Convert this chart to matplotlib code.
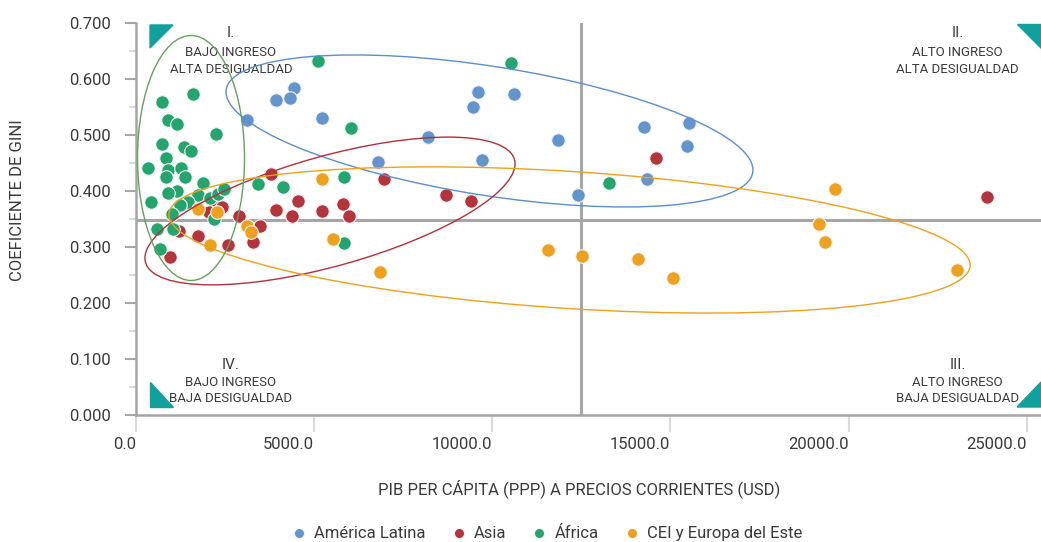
import matplotlib.pyplot as plt
from matplotlib import font_manager
from matplotlib.patches import Ellipse, Polygon
from matplotlib.ticker import MultipleLocator, FormatStrFormatter
from matplotlib.transforms import ScaledTranslation

# --- data (PIB per capita PPP, Gini) ---
latam_x = [4426, 4322, 3929, 3129, 5229, 9599, 10615, 9467, 8187, 6792, 9711,
           11852, 12397, 14258, 15521, 15456, 14342]
latam_y = [0.584, 0.567, 0.563, 0.528, 0.531, 0.577, 0.574, 0.551, 0.496, 0.453,
           0.456, 0.491, 0.393, 0.515, 0.521, 0.481, 0.421]

asia_x = [3775, 4547, 3935, 4387, 2217, 2405, 2049, 2896, 3480, 3292, 2576, 1749,
          1215, 946, 6969, 8692, 9394, 5229, 5801, 5970, 14594, 23893]
asia_y = [0.431, 0.383, 0.366, 0.356, 0.380, 0.372, 0.363, 0.356, 0.337, 0.310,
          0.303, 0.319, 0.328, 0.283, 0.421, 0.393, 0.383, 0.365, 0.377, 0.356,
          0.460, 0.390]

africa_x = [1591, 738, 907, 1159, 2245, 738, 1356, 1535, 842, 345, 907, 1255, 834,
            1375, 1872, 1159, 907, 421, 1749, 2077, 2310, 2475, 1468, 1235, 1002,
            2198, 581, 1030, 674, 3433, 4117, 5116, 10516, 6034, 5846, 5829, 13275]
africa_y = [0.574, 0.560, 0.527, 0.520, 0.503, 0.484, 0.479, 0.471, 0.459, 0.442,
            0.438, 0.442, 0.425, 0.425, 0.415, 0.400, 0.396, 0.381, 0.393, 0.387,
            0.395, 0.403, 0.381, 0.375, 0.359, 0.351, 0.332, 0.333, 0.297, 0.413,
            0.407, 0.632, 0.629, 0.512, 0.425, 0.308, 0.414]

cei_x = [1749, 2265, 3129, 3214, 2063, 5229, 5537, 6857, 11577, 12517, 14098,
         15071, 19618, 19169, 19337, 23051]
cei_y = [0.369, 0.362, 0.337, 0.327, 0.303, 0.422, 0.314, 0.256, 0.294, 0.284,
         0.279, 0.245, 0.403, 0.342, 0.309, 0.259]

series_names = ['América Latina', 'Asia', 'África', 'CEI y Europa del Este']
series_colors = ['#6494CC', '#B3343D', '#24A46F', '#ECA21E']

income_split = 12480
gini_split = 0.348

# font: condensed if available
names = {f.name for f in font_manager.fontManager.ttflist}
font = 'Liberation Sans Narrow' if 'Liberation Sans Narrow' in names else 'Roboto'
plt.rcParams['font.family'] = [font, 'DejaVu Sans']
txt = '#3a3a3a'

fig = plt.figure(figsize=(10.41, 5.42), dpi=100)
ax = fig.add_axes([136 / 1041, 127 / 542, 905 / 1041, 391.7 / 542])

# quadrant lines
ax.axvline(income_split, color='#a6a6a6', lw=2.2, zorder=1)
ax.axhline(gini_split, color='#a6a6a6', lw=2.2, zorder=1)

# points
for xs, ys, name, col in zip([latam_x, asia_x, africa_x, cei_x],
                             [latam_y, asia_y, africa_y, cei_y],
                             series_names, series_colors):
    ax.scatter(xs, ys, s=95, color=col, edgecolor='#f4f4f4', linewidth=0.8,
               label=name, zorder=3)

# group ellipses: centre in data, size in pixels, angle in degrees
ellipses = [
    (9921, 0.5076, 533, 129, -8.95, '#5B8FCB'),
    (5445, 0.3646, 383, 110, 15.6, '#B2303A'),
    (12167, 0.3128, 803, 137, -3.7, '#F0A01A'),
    (1544, 0.4593, 107, 245, 0.0, '#6A9F5F'),
]
for cx, cy, w, h, ang, col in ellipses:
    tr = fig.dpi_scale_trans + ScaledTranslation(cx, cy, ax.transData)
    ax.add_patch(Ellipse((0, 0), w / 100, h / 100, angle=ang, transform=tr,
                         fill=False, edgecolor=col, lw=1.0, zorder=4))

# corner triangles
teal = '#12A09C'
tris = [
    [(0.0155, 0.9957), (0.0409, 0.9957), (0.0155, 0.937)],
    [(0.9735, 0.998), (1.0, 0.998), (1.0, 0.937)],
    [(0.0155, 0.0842), (0.0155, 0.0204), (0.0409, 0.0204)],
    [(0.9735, 0.0204), (1.0, 0.0842), (1.0, 0.0204)],
]
for t in tris:
    ax.add_patch(Polygon(t, closed=True, color=teal, transform=ax.transAxes,
                         clip_on=False, zorder=5))

# quadrant labels
quads = [
    (0.105, 0.975, 'I.', 'BAJO INGRESO', 'ALTA DESIGUALDAD', 0.926, 0.883),
    (0.908, 0.975, 'II.', 'ALTO INGRESO', 'ALTA DESIGUALDAD', 0.926, 0.883),
    (0.105, 0.128, 'IV.', 'BAJO INGRESO', 'BAJA DESIGUALDAD', 0.083, 0.041),
    (0.908, 0.128, 'III.', 'ALTO INGRESO', 'BAJA DESIGUALDAD', 0.083, 0.041),
]
for qx, qy, num, l1, l2, y1, y2 in quads:
    ax.text(qx, qy, num, transform=ax.transAxes, ha='center', va='center',
            fontsize=11, color=txt)
    ax.text(qx, y1, l1, transform=ax.transAxes, ha='center', va='center',
            fontsize=9.5, color=txt)
    ax.text(qx, y2, l2, transform=ax.transAxes, ha='center', va='center',
            fontsize=9.5, color=txt)

# axes
ax.set_xlim(0, 25400)
ax.set_ylim(0, 0.7)
ax.xaxis.set_major_locator(MultipleLocator(5000))
ax.xaxis.set_major_formatter(FormatStrFormatter('%.1f'))
ax.yaxis.set_major_locator(MultipleLocator(0.1))
ax.yaxis.set_minor_locator(MultipleLocator(0.05))
ax.yaxis.set_major_formatter(FormatStrFormatter('%.3f'))

for s in ['top', 'right']:
    ax.spines[s].set_visible(False)
for s in ['left', 'bottom']:
    ax.spines[s].set_color('#a6a6a6')
    ax.spines[s].set_linewidth(1.8)

ax.tick_params(axis='x', which='major', length=12, width=1.5, color='#dadada',
               labelsize=12, labelcolor=txt, pad=4)
ax.tick_params(axis='y', which='major', length=8, width=1.5, color='#a6a6a6',
               labelsize=12, labelcolor=txt, pad=10)
ax.tick_params(axis='y', which='minor', length=5, width=1.5, color='#dadada')
for lbl in ax.get_xticklabels():
    lbl.set_ha('right')

ax.set_ylabel('COEFICIENTE DE GINI', fontsize=12, color=txt)
ax.yaxis.set_label_coords(-0.123, 0.549)
ax.set_xlabel('PIB PER CÁPITA (PPP) A PRECIOS CORRIENTES (USD)', fontsize=12,
              color=txt)
ax.xaxis.set_label_coords(0.49, -0.165)

leg = fig.legend(loc='center', bbox_to_anchor=(0.524, 0.016), ncol=4,
                 frameon=False, markerscale=0.75, handletextpad=0.3,
                 handlelength=1.2, columnspacing=1.4, fontsize=12)
for t in leg.get_texts():
    t.set_color(txt)

fig.savefig('out.png', dpi=100)
